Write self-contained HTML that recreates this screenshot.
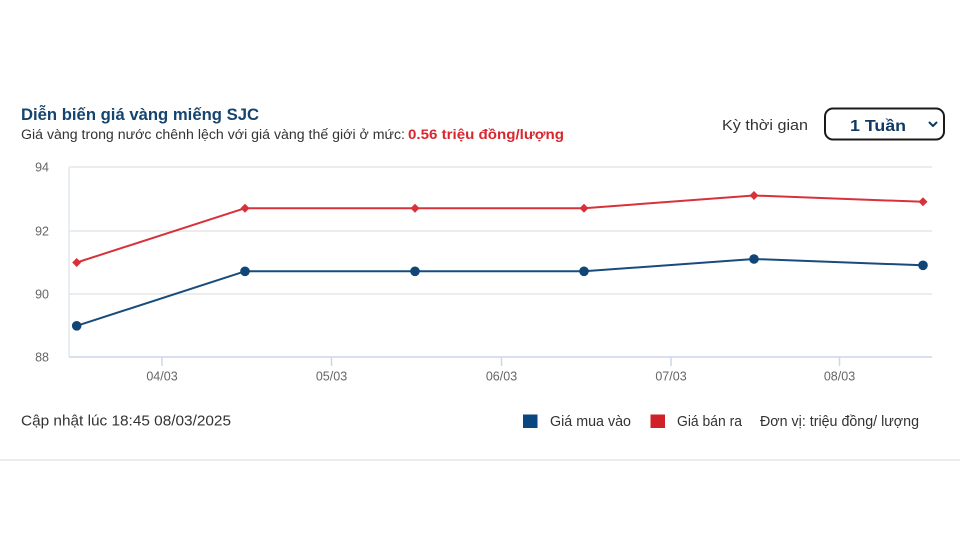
<!DOCTYPE html>
<html><head><meta charset="utf-8">
<style>
html,body{margin:0;padding:0;background:#fff;}
body{width:960px;height:540px;overflow:hidden;position:relative;font-family:"Liberation Sans",Arial,sans-serif;}
svg{position:absolute;left:0;top:0;}
</style></head>
<body>
<svg width="960" height="540" viewBox="0 0 960 540" xmlns="http://www.w3.org/2000/svg" font-family="Liberation Sans, Arial, sans-serif">
  <!-- header -->
  <text x="21" y="120" font-size="17" font-weight="bold" fill="#15446f" textLength="238" lengthAdjust="spacingAndGlyphs">Diễn biến giá vàng miếng SJC</text>
  <text x="21" y="139" font-size="13.5" fill="#333" textLength="384" lengthAdjust="spacingAndGlyphs">Giá vàng trong nước chênh lệch với giá vàng thế giới ở mức:</text>
  <text x="408" y="139" font-size="13.5" font-weight="bold" fill="#d9262e" textLength="156" lengthAdjust="spacingAndGlyphs">0.56 triệu đồng/lượng</text>

  <text x="722" y="130" font-size="15" fill="#333" textLength="86" lengthAdjust="spacingAndGlyphs">Kỳ thời gian</text>
  <rect x="825" y="108.5" width="119" height="31" rx="8" ry="8" fill="#fff" stroke="#1a1a1a" stroke-width="2"/>
  <text x="850" y="131" font-size="16" font-weight="bold" fill="#0f3a63" textLength="56" lengthAdjust="spacingAndGlyphs">1 Tuần</text>
  <path d="M929.5 122.5 L933 126 L936.5 122.5" fill="none" stroke="#0f3a63" stroke-width="2" stroke-linecap="round" stroke-linejoin="round"/>

  <!-- grid -->
  <g stroke="#e6e6e6" stroke-width="1.5">
    <line x1="69" y1="167" x2="932" y2="167"/>
    <line x1="69" y1="231" x2="932" y2="231"/>
    <line x1="69" y1="294" x2="932" y2="294"/>
  </g>
  <line x1="69" y1="167" x2="69" y2="357" stroke="#e2e7f0" stroke-width="1.5"/>
  <line x1="69" y1="357" x2="932" y2="357" stroke="#ccd6eb" stroke-width="1.5"/>
  <g stroke="#ccd6eb" stroke-width="1.5">
    <line x1="162" y1="357" x2="162" y2="366"/>
    <line x1="331.5" y1="357" x2="331.5" y2="366"/>
    <line x1="501.5" y1="357" x2="501.5" y2="366"/>
    <line x1="671" y1="357" x2="671" y2="366"/>
    <line x1="839.5" y1="357" x2="839.5" y2="366"/>
  </g>

  <!-- y labels -->
  <g font-size="12.5" fill="#666" text-anchor="end">
    <text x="49" y="171.5">94</text>
    <text x="49" y="235.5">92</text>
    <text x="49" y="298.5">90</text>
    <text x="49" y="361.5">88</text>
  </g>
  <!-- x labels -->
  <g font-size="12.5" fill="#666" text-anchor="middle">
    <text x="162" y="380.5">04/03</text>
    <text x="331.5" y="380.5">05/03</text>
    <text x="501.5" y="380.5">06/03</text>
    <text x="671" y="380.5">07/03</text>
    <text x="839.5" y="380.5">08/03</text>
  </g>

  <!-- series red (ban ra) -->
  <polyline points="76.7,262.5 245,208.2 415,208.2 584,208.2 754,195.5 923,201.8" fill="none" stroke="#d7323a" stroke-width="2" stroke-linejoin="round"/>
  <g fill="#d7323a">
    <path d="M76.7 258 L81.2 262.5 L76.7 267 L72.2 262.5Z"/>
    <path d="M245 203.7 L249.5 208.2 L245 212.7 L240.5 208.2Z"/>
    <path d="M415 203.7 L419.5 208.2 L415 212.7 L410.5 208.2Z"/>
    <path d="M584 203.7 L588.5 208.2 L584 212.7 L579.5 208.2Z"/>
    <path d="M754 191 L758.5 195.5 L754 200 L749.5 195.5Z"/>
    <path d="M923 197.3 L927.5 201.8 L923 206.3 L918.5 201.8Z"/>
  </g>

  <!-- series blue (mua vao) -->
  <polyline points="76.7,325.8 245,271.3 415,271.3 584,271.3 754,259 923,265.3" fill="none" stroke="#174c7c" stroke-width="2" stroke-linejoin="round"/>
  <g fill="#0f4677">
    <circle cx="76.7" cy="325.8" r="4.8"/>
    <circle cx="245" cy="271.3" r="4.8"/>
    <circle cx="415" cy="271.3" r="4.8"/>
    <circle cx="584" cy="271.3" r="4.8"/>
    <circle cx="754" cy="259" r="4.8"/>
    <circle cx="923" cy="265.3" r="4.8"/>
  </g>

  <!-- footer -->
  <text x="21" y="425.5" font-size="14.5" fill="#333" textLength="210" lengthAdjust="spacingAndGlyphs">Cập nhật lúc 18:45 08/03/2025</text>
  <rect x="523" y="414.5" width="14.5" height="13.5" fill="#0a4680"/>
  <text x="550" y="426" font-size="14.5" fill="#333" textLength="81" lengthAdjust="spacingAndGlyphs">Giá mua vào</text>
  <rect x="650.5" y="414.5" width="14.5" height="13.5" fill="#d0202a"/>
  <text x="677" y="426" font-size="14.5" fill="#333" textLength="65" lengthAdjust="spacingAndGlyphs">Giá bán ra</text>
  <text x="760" y="426" font-size="14.5" fill="#333" textLength="159" lengthAdjust="spacingAndGlyphs">Đơn vị: triệu đồng/ lượng</text>

  <line x1="0" y1="460" x2="960" y2="460" stroke="#ebebeb" stroke-width="2"/>
</svg>
</body></html>
